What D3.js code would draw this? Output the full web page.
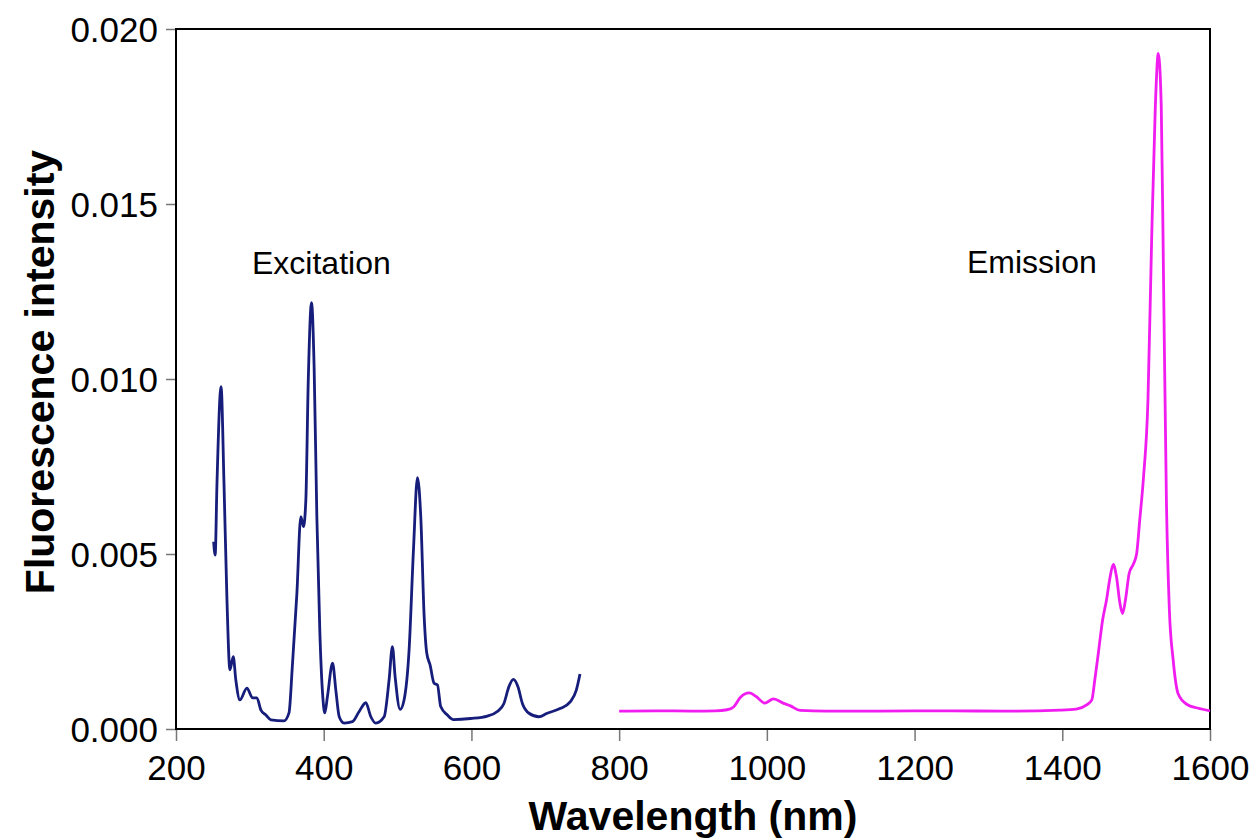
<!DOCTYPE html>
<html>
<head>
<meta charset="utf-8">
<script src="https://cdn.jsdelivr.net/npm/d3@7"></script>
<style>
  body { margin: 0; background: #fff; }
  text { font-family: "Liberation Sans", Arial, sans-serif; }
</style>
</head>
<body>
<svg id="chart" width="1253" height="839"></svg>
<script>
// excitation spectrum (nm, intensity)
var excitationWl = [251, 253, 255.5, 261, 265, 269, 273, 277.5, 281, 286.5, 296, 303.7, 309.5, 315, 321.7, 328.5, 346, 353, 357.5, 363.7, 369, 372.6, 375.8, 379, 383.5, 387, 390.7, 394.8, 398.4, 401.5, 405, 412, 416.4, 421, 427.6, 439, 448, 457, 463.8, 470.5, 481.8, 488.5, 493, 496.7, 503.4, 508.8, 515.6, 521.5, 526.9, 531.4, 536, 539.5, 544, 549.4, 554, 558.4, 567.5, 575.6, 599, 621.6, 635, 644, 650.8, 656.7, 663, 669, 678, 691.3, 702.6, 720.7, 734, 742, 747];
var excitationVal = [0.00535, 0.00497, 0.00703, 0.00978, 0.0070, 0.00369, 0.00169, 0.00207, 0.0014, 0.00083, 0.00117, 0.00089, 0.00089, 0.00054, 0.0004, 0.00026, 0.00023, 0.00046, 0.00178, 0.00388, 0.00607, 0.00578, 0.00654, 0.00988, 0.01218, 0.01035, 0.00607, 0.00274, 0.00103, 0.00046, 0.00092, 0.00188, 0.00111, 0.00035, 0.00017, 0.00021, 0.0005, 0.00075, 0.00035, 0.00017, 0.00035, 0.0014, 0.00235, 0.00149, 0.00056, 0.00083, 0.00226, 0.00511, 0.00718, 0.00607, 0.00321, 0.00217, 0.00183, 0.00131, 0.00126, 0.00064, 0.0004, 0.00027, 0.0003, 0.00037, 0.0005, 0.00073, 0.00121, 0.00142, 0.00121, 0.00073, 0.00045, 0.00035, 0.00045, 0.00059, 0.00078, 0.00111, 0.00157];

// emission spectrum (nm, intensity)
var emissionWl = [800, 850, 900, 930, 946, 955, 964, 976, 986, 997, 1009, 1022, 1032, 1045, 1080, 1150, 1250, 1320, 1397, 1419, 1433, 1440, 1444, 1449, 1454.5, 1460, 1464.4, 1469, 1473.4, 1478, 1481.6, 1485.6, 1490.6, 1496, 1500.6, 1505, 1510, 1516, 1521, 1526, 1530, 1534, 1537, 1541, 1545, 1550, 1557, 1569, 1583, 1600];
var emissionVal = [0.00051, 0.00052, 0.00051, 0.00052, 0.00055, 0.00063, 0.0009, 0.00103, 0.00092, 0.00074, 0.00086, 0.00074, 0.00066, 0.00053, 0.00051, 0.00051, 0.00052, 0.00051, 0.00054, 0.00057, 0.00069, 0.00083, 0.0014, 0.0022, 0.0031, 0.0037, 0.0043, 0.0047, 0.00435, 0.0036, 0.0033, 0.0037, 0.00445, 0.0047, 0.0050, 0.0060, 0.0072, 0.0094, 0.0140, 0.0178, 0.0193, 0.0178, 0.0130, 0.0065, 0.0034, 0.0020, 0.0010, 0.0007, 0.0006, 0.00052];

var xTicks = [200, 400, 600, 800, 1000, 1200, 1400, 1600];
var yTicks = [0, 0.005, 0.010, 0.015, 0.020];

// plot box (window.top is reserved, so prefixed names)
var plotLeft = 176, plotRight = 1210, plotTop = 29, plotBottom = 729;

var svg = d3.select("#chart");
var x = d3.scaleLinear().domain([200, 1600]).range([plotLeft, plotRight]);
var y = d3.scaleLinear().domain([0, 0.02]).range([plotBottom, plotTop]);

function pairs(wl, val) {
    return wl.map(function (w, i) { return [w, val[i]]; });
}

var line = d3.line()
    .x(function (d) { return x(d[0]); })
    .y(function (d) { return y(d[1]); })
    .curve(d3.curveMonotoneX);

// axes
var xAxis = svg.append("g")
    .attr("transform", "translate(0," + plotBottom + ")")
    .call(d3.axisBottom(x).tickValues(xTicks).tickSize(12).tickSizeOuter(0).tickFormat(d3.format("d")));
var yAxis = svg.append("g")
    .attr("transform", "translate(" + plotLeft + ",0)")
    .call(d3.axisLeft(y).tickValues(yTicks).tickSize(10).tickSizeOuter(0).tickFormat(d3.format(".3f")));

[xAxis, yAxis].forEach(function (g) {
    g.select(".domain").remove();
    g.selectAll(".tick line").attr("stroke", "#777").attr("stroke-width", 1.5);
    g.selectAll(".tick text").attr("fill", "#000").style("font-size", "35px");
});
xAxis.selectAll(".tick text").attr("y", 0).attr("dy", 0).attr("transform", "translate(0,51)");
yAxis.selectAll(".tick text").attr("x", -18).attr("dy", "0.36em");

// frame
svg.append("rect")
    .attr("x", plotLeft).attr("y", plotTop)
    .attr("width", plotRight - plotLeft).attr("height", plotBottom - plotTop)
    .attr("fill", "none").attr("stroke", "#000").attr("stroke-width", 2);

// spectra
svg.append("path")
    .datum(pairs(excitationWl, excitationVal))
    .attr("d", line)
    .attr("fill", "none")
    .attr("stroke", "#161d7a")
    .attr("stroke-width", 2.8);

svg.append("path")
    .datum(pairs(emissionWl, emissionVal))
    .attr("d", line)
    .attr("fill", "none")
    .attr("stroke", "#f01cf0")
    .attr("stroke-width", 2.8);

// labels
svg.append("text").attr("x", 252).attr("y", 274).style("font-size", "32px").text("Excitation");
svg.append("text").attr("x", 967).attr("y", 273).style("font-size", "32px").text("Emission");

svg.append("text")
    .attr("x", (plotLeft + plotRight) / 2).attr("y", 830)
    .attr("text-anchor", "middle")
    .style("font-size", "41px").style("font-weight", "bold")
    .text("Wavelength (nm)");

svg.append("text")
    .attr("transform", "translate(54,372) rotate(-90)")
    .attr("text-anchor", "middle")
    .style("font-size", "41px").style("font-weight", "bold")
    .text("Fluorescence intensity");
</script>
</body>
</html>
